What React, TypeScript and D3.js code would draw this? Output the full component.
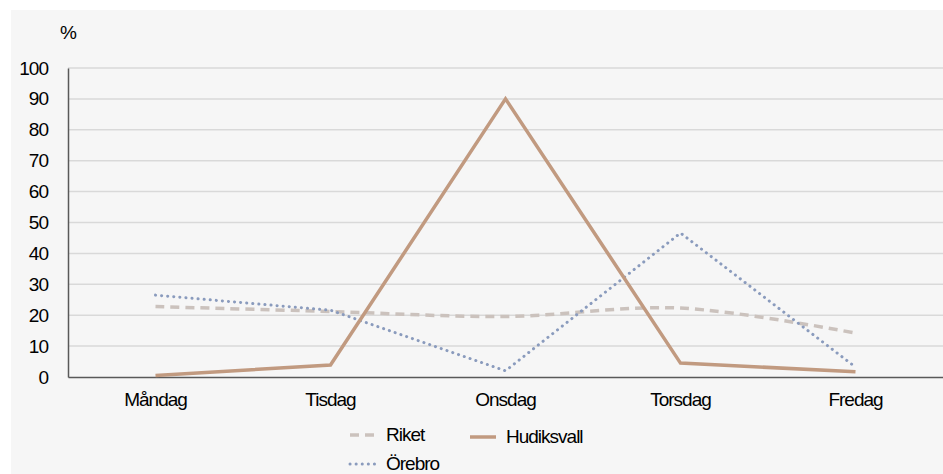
import { useEffect, useRef } from 'react';
import * as d3 from 'd3';

const days = ['Måndag', 'Tisdag', 'Onsdag', 'Torsdag', 'Fredag'];
const riket = [22.8, 21.2, 19.6, 22.3, 14.2];
const orebro = [26.5, 21.6, 2.0, 46.6, 3.2];
const hudiksvall = [0.5, 3.9, 90, 4.5, 1.7];
const yTicks = [0, 10, 20, 30, 40, 50, 60, 70, 80, 90, 100];

const App: React.FC = () => {
  const svgRef = useRef<SVGSVGElement | null>(null);

  useEffect(() => {
    if (!svgRef.current) return;
    const width = 943;
    const height = 474;
    const marginLeft = 68;
    const marginRight = 0;
    const marginTop = 68;
    const bottomY = 377;

    const svg = d3.select(svgRef.current);
    svg.selectAll('*').remove();

    svg.append('rect').attr('x', 11).attr('y', 10).attr('width', width - 11).attr('height', height - 10).attr('fill', '#f6f6f6');

    const x = d3.scaleBand().domain(days).range([marginLeft, width - marginRight]);
    const y = d3.scaleLinear().domain([0, 100]).range([bottomY, marginTop]);
    const cx = (d: string) => (x(d) ?? 0) + x.bandwidth() / 2;

    // grid
    svg
      .append('g')
      .selectAll('line')
      .data(yTicks.filter((t) => t > 0))
      .enter()
      .append('line')
      .attr('x1', marginLeft)
      .attr('x2', width - marginRight)
      .attr('y1', (d) => y(d))
      .attr('y2', (d) => y(d))
      .attr('stroke', '#d9d9d9')
      .attr('stroke-width', 1.5);

    const font = "'Liberation Sans', Arial, sans-serif";
    const fs = 19;

    // y axis
    const yAxis = svg
      .append('g')
      .attr('transform', `translate(${marginLeft},0)`)
      .call(d3.axisLeft(y).tickValues(yTicks).tickSize(0).tickPadding(20));
    yAxis.select('.domain').attr('stroke', '#595959').attr('stroke-width', 1.5);
    yAxis.selectAll('text').attr('font-family', font).attr('font-size', fs).attr('fill', '#000').attr('letter-spacing', -1);

    // x axis
    const xAxis = svg
      .append('g')
      .attr('transform', `translate(0,${bottomY})`)
      .call(d3.axisBottom(x).tickSize(0).tickPadding(16));
    xAxis.select('.domain').attr('stroke', '#595959').attr('stroke-width', 1.5);
    xAxis.selectAll('text').attr('font-family', font).attr('font-size', fs).attr('fill', '#000').attr('letter-spacing', -1);

    svg
      .append('text')
      .attr('x', 60)
      .attr('y', 39)
      .attr('font-family', font)
      .attr('font-size', fs)
      .text('%');

    const series = [
      { name: 'Riket', values: riket, color: '#cbc2bd', dash: '9,6', width: 3.5, cap: 'butt', curve: d3.curveCatmullRom.alpha(0.5) },
      { name: 'Örebro', values: orebro, color: '#8a9bbd', dash: '0.1,6', width: 3, cap: 'round', curve: d3.curveLinear },
      { name: 'Hudiksvall', values: hudiksvall, color: '#c19a80', dash: null, width: 3.5, cap: 'butt', curve: d3.curveLinear },
    ];

    series.forEach((s) => {
      const line = d3
        .line<number>()
        .x((_, i) => cx(days[i]))
        .y((d) => y(d))
        .curve(s.curve);
      svg
        .append('path')
        .attr('d', line(s.values))
        .attr('fill', 'none')
        .attr('stroke', s.color)
        .attr('stroke-width', s.width)
        .attr('stroke-linecap', s.cap)
        .attr('stroke-dasharray', s.dash ?? null);
    });

    // legend
    const legendPos = [
      { x: 350, y: 435 },
      { x: 350, y: 464 },
      { x: 470, y: 437 },
    ];
    series.forEach((s, i) => {
      const p = legendPos[i];
      svg
        .append('line')
        .attr('x1', p.x)
        .attr('x2', p.x + 26)
        .attr('y1', p.y)
        .attr('y2', p.y)
        .attr('stroke', s.color)
        .attr('stroke-width', s.width)
        .attr('stroke-linecap', s.cap)
        .attr('stroke-dasharray', s.dash ?? null);
      svg
        .append('text')
        .attr('x', p.x + 36)
        .attr('y', p.y + 6)
        .attr('font-family', font)
        .attr('font-size', fs)
        .attr('letter-spacing', -1)
        .text(s.name);
    });
  }, []);

  return (
    <div style={{ position: 'fixed', left: 0, top: 0, background: '#fff' }}>
      <svg ref={svgRef} width={943} height={474} style={{ display: 'block' }}></svg>
    </div>
  );
};

export default App;
